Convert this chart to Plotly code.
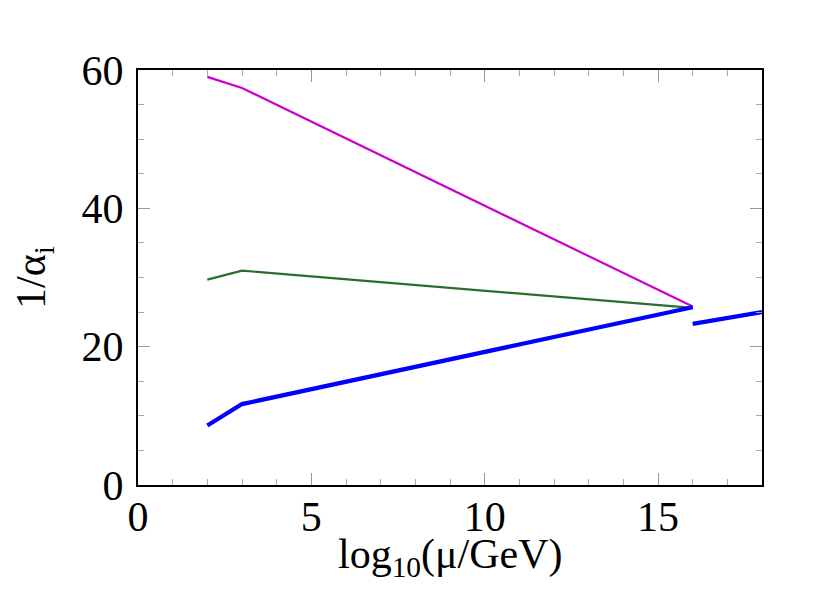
import plotly.graph_objects as go

# running inverse couplings 1/alpha_i vs log10(mu/GeV)
x_low = [2, 3, 16]
inv_a1 = [59.0, 57.4, 25.8]
inv_a2 = [29.7, 31.0, 25.6]
inv_a3 = [8.6, 11.7, 25.7]
x_high = [16, 18]
inv_a3_high = [23.3, 25.0]

fig = go.Figure()
fig.add_trace(go.Scatter(x=x_low, y=inv_a1, mode="lines",
                         line=dict(color="#cc00cc", width=2.2)))
fig.add_trace(go.Scatter(x=x_low, y=inv_a2, mode="lines",
                         line=dict(color="#2b6e2b", width=2.2)))
fig.add_trace(go.Scatter(x=x_low, y=inv_a3, mode="lines",
                         line=dict(color="#0000ff", width=4.2)))
fig.add_trace(go.Scatter(x=x_high, y=inv_a3_high, mode="lines",
                         line=dict(color="#0000ff", width=4.2)))

axis_font = dict(family="Liberation Serif, Times New Roman, serif", size=42, color="black")

# page body has an 8px offset, margins compensate for it
fig.update_layout(
    width=830, height=589,
    margin=dict(l=130, r=76, t=62, b=112),
    plot_bgcolor="white", paper_bgcolor="white",
    showlegend=False,
    font=axis_font,
)
fig.update_xaxes(
    range=[0, 18], dtick=5, tick0=0,
    showgrid=False, zeroline=False,
    showline=True, linecolor="black", linewidth=2, mirror="ticks",
    ticks="inside", ticklen=12, tickcolor="#999999", tickwidth=1,
    minor=dict(ticks="inside", dtick=1, ticklen=6, tickcolor="#aaaaaa", showgrid=False),
    tickfont=axis_font, ticklabelstandoff=-6,
)
fig.update_yaxes(
    range=[0, 60], dtick=20, tick0=0,
    showgrid=False, zeroline=False,
    showline=True, linecolor="black", linewidth=2, mirror="ticks",
    ticks="inside", ticklen=12, tickcolor="#999999", tickwidth=1,
    minor=dict(ticks="inside", dtick=5, ticklen=6, tickcolor="#aaaaaa", showgrid=False),
    tickfont=axis_font, ticklabelstandoff=4,
    title=dict(text="1/α<sub>i</sub>", font=axis_font, standoff=30),
)

# x title placed by hand so it sits closer to the tick labels
fig.add_annotation(
    text="log<sub>10</sub>(μ/GeV)", xref="paper", yref="paper",
    x=0.5, y=0, xanchor="center", yanchor="top", yshift=-44,
    showarrow=False, font=axis_font,
)

fig.write_html("out.html")
